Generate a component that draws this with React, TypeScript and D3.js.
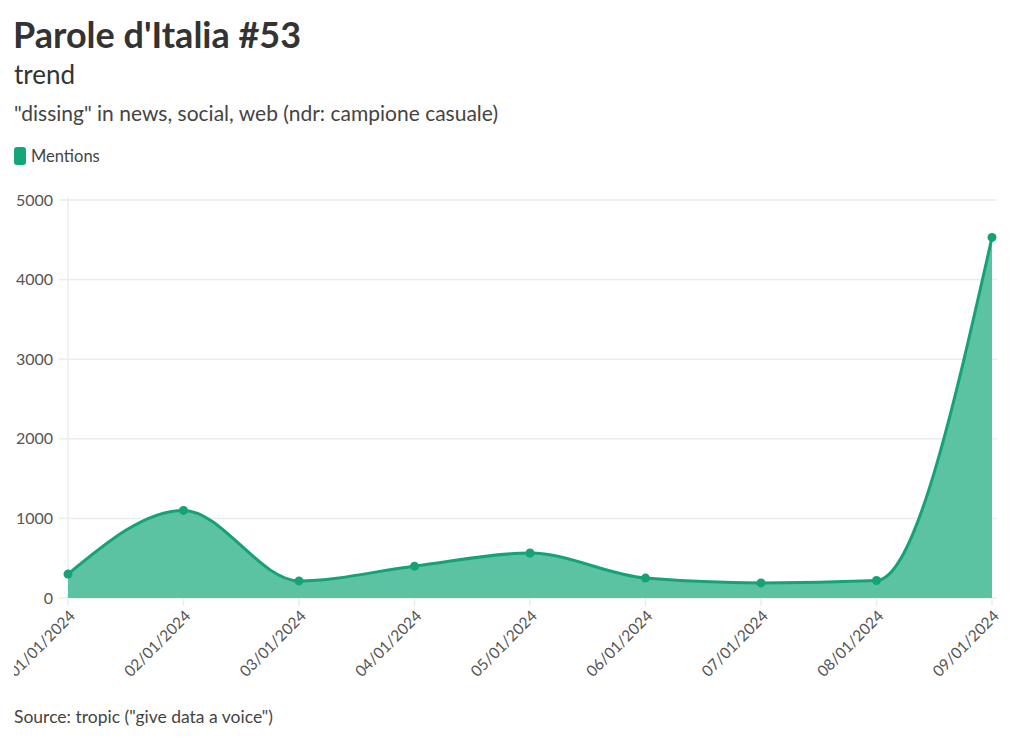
import React from "react";
import * as d3 from "d3";

const dates = ["01/01/2024","02/01/2024","03/01/2024","04/01/2024","05/01/2024","06/01/2024","07/01/2024","08/01/2024","09/01/2024"];
const mentions = [300, 1100, 215, 400, 565, 250, 190, 220, 4530];
const yTicks = [0, 1000, 2000, 3000, 4000, 5000];

const W = 1024, H = 742;
const left = 68, right = 992, top = 200, bottom = 598;
const font = "'Source Sans Pro', Lato, 'Noto Sans', sans-serif";

export default function App() {
  const x = d3.scalePoint<string>().domain(dates).range([left, right]);
  const y = d3.scaleLinear().domain([0, 5000]).range([bottom, top]);
  const data = dates.map((d, i) => ({ d, v: mentions[i] }));
  const line = d3.line<any>().x(p => x(p.d)!).y(p => y(p.v)).curve(d3.curveMonotoneX);
  const area = d3.area<any>().x(p => x(p.d)!).y0(y(0)).y1(p => y(p.v)).curve(d3.curveMonotoneX);
  return (
    <svg width={W} height={H} style={{ position: "absolute", left: 0, top: 0, background: "#fff" }} fontFamily={font}>
      <defs>
        <clipPath id="lbl"><rect x={14} y={0} width={1010} height={742} /></clipPath>
      </defs>
      <text x={13} y={48} fontSize={36} fontWeight={700} fill="#333">Parole d'Italia #53</text>
      <text x={14} y={84} fontSize={26} fill="#333">trend</text>
      <text x={14} y={121} fontSize={21} fill="#444">"dissing" in news, social, web (ndr: campione casuale)</text>
      <rect x={14} y={147} width={12} height={18} rx={3} fill="#14a678" />
      <text x={31} y={162} fontSize={16.5} fill="#444">Mentions</text>
      {yTicks.map(t => (
        <g key={t}>
          <line x1={left} x2={997} y1={y(t)} y2={y(t)} stroke="#ececec" strokeWidth={1.5} />
          <line x1={59} x2={left} y1={y(t)} y2={y(t)} stroke="#ececec" strokeWidth={1.5} />
          <text x={53} y={y(t)} dy="0.35em" textAnchor="end" fontSize={16} fill="#555">{t}</text>
        </g>
      ))}
      <line x1={left} x2={left} y1={top - 3} y2={bottom} stroke="#ececec" strokeWidth={1.5} />
      <path d={area(data)!} fill="#5bc2a2" />
      <path d={line(data)!} fill="none" stroke="#16a277" strokeWidth={3} />
      {data.map(p => (
        <circle key={p.d} cx={x(p.d)} cy={y(p.v)} r={4.5} fill="#16a277" />
      ))}
      <g clipPath="url(#lbl)">
        {dates.map(d => (
          <g key={d} transform={`translate(${x(d)},${bottom})`}>
            <line y1={0} y2={8} stroke="#ececec" strokeWidth={1.5} />
            <text transform="translate(8,19) rotate(-45)" textAnchor="end" fontSize={15.5} fill="#555">{d}</text>
          </g>
        ))}
      </g>
      <text x={14} y={723} fontSize={17.5} fill="#444">Source: tropic ("give data a voice")</text>
    </svg>
  );
}
